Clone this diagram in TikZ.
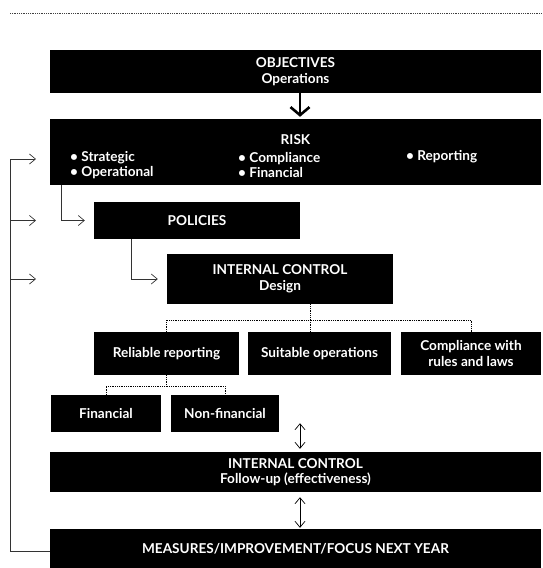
\documentclass[tikz,border=0pt]{standalone}
\usepackage{fontspec}
\setmainfont{Lato}
\usetikzlibrary{arrows.meta}
\newcommand{\boxfont}{\fontsize{13.6}{15.5}\selectfont\bfseries}

\begin{document}
\begin{tikzpicture}[x=1pt, y=-1pt,
    blackbox/.style={fill=black, text=white, inner sep=0pt, align=center, font=\boxfont},
    boxtext/.style={text=white, inner sep=0pt, align=left, font=\boxfont},
    link/.style={draw=black!80, line width=0.7pt, -{Straight Barb[length=6pt,width=10pt]}},
    dbl/.style={draw=black, line width=0.7pt, {Straight Barb[length=6pt,width=10pt]}-{Straight Barb[length=6pt,width=10pt]}},
    dots/.style={draw=black, line width=0.9pt, dash pattern=on 0.9pt off 0.9pt}]

  \useasboundingbox (0,0) rectangle (542,568);

  % ══ TOP RULE ══════════════════════════════════════════════════
  \draw[black!75, line width=0.9pt, dash pattern=on 0.9pt off 0.9pt] (10,13) -- (542,13);

  % ══ MAIN BOXES ════════════════════════════════════════════════
  \node[blackbox, minimum width=491pt, minimum height=43pt] (obj) at (295.5, 71.5)
    {OBJECTIVES\\Operations};
  \node[blackbox, minimum width=491pt, minimum height=66pt] (risk) at (295.5, 152) {};
  \node[boxtext, align=center] (risktitle) at (295.5, 140) {RISK};
  \node[boxtext, anchor=west] (riskA) at (70, 165) {• Strategic\\• Operational};
  \node[boxtext, anchor=west] (riskB) at (238, 165) {• Compliance\\• Financial};
  \node[boxtext, anchor=north west] (riskC) at (406, 150.5) {• Reporting};

  \node[blackbox, minimum width=206pt, minimum height=37pt] (pol) at (197, 220.5)
    {POLICIES};
  \node[blackbox, minimum width=226pt, minimum height=50pt] (icdesign) at (280, 279)
    {INTERNAL CONTROL\\Design};

  % ══ OBJECTIVE BOXES ═══════════════════════════════════════════
  \node[blackbox, minimum width=145pt, minimum height=43pt] (relrep) at (166.5, 353.5)
    {Reliable reporting};
  \node[blackbox, minimum width=143pt, minimum height=43pt] (suitops) at (319.5, 353.5)
    {Suitable operations};
  \node[blackbox, minimum width=140pt, minimum height=43pt] (compl) at (471, 353.5)
    {Compliance with\\rules and laws};

  \node[blackbox, minimum width=110pt, minimum height=37pt] (fin) at (106, 413.5)
    {Financial};
  \node[blackbox, minimum width=108pt, minimum height=37pt] (nonfin) at (225, 413.5)
    {Non-financial};

  % ══ FOLLOW-UP AND MEASURES ════════════════════════════════════
  \node[blackbox, minimum width=491pt, minimum height=40pt] (icfollow) at (295.5, 472)
    {INTERNAL CONTROL\\Follow-up (effectiveness)};
  \node[blackbox, minimum width=491pt, minimum height=39pt] (measures) at (295.5, 548.5)
    {MEASURES/IMPROVEMENT/FOCUS NEXT YEAR};

  % ══ ARROWS ════════════════════════════════════════════════════
  \draw[line width=2.6pt, -{Straight Barb[length=8pt,width=19pt]}, shorten >=2pt]
    ([xshift=4.5pt]obj.south) -- ([xshift=4.5pt]risk.north);
  \draw[link] ([xshift=12pt]risk.south west) |- ([xshift=-9pt]pol.west);
  \draw[link] ([xshift=38pt]pol.south west) |- ([xshift=-9pt]icdesign.west);

  \draw[dbl, shorten <=3pt, shorten >=-9pt] ([xshift=4.5pt]icfollow.north) -- ([xshift=4.5pt]icfollow.north |- nonfin.south);
  \draw[dbl, shorten <=5pt, shorten >=1pt] ([xshift=4.5pt]icfollow.south) -- ([xshift=4.5pt]measures.north);

  % ══ DOTTED TREE ═══════════════════════════════════════════════
  \coordinate (split) at (310, 320);
  \draw[dots] (icdesign.south -| split) -- (split);
  \draw[dots] (relrep.north) |- (split) -| (compl.north);
  \draw[dots] (split) -- (split |- suitops.north);
  \coordinate (split2) at (166.5, 386);
  \draw[dots] (relrep.south) -- (split2);
  \draw[dots] (fin.north) |- (split2) -| (nonfin.north);

  % ══ FEEDBACK LOOP ═════════════════════════════════════════════
  \coordinate (loop) at (10, 159);
  \coordinate (tipx) at (36, 0);
  \draw[black!80, line width=0.7pt] (measures.west |- 0,551) -| (loop);
  \draw[link] (loop) -- (loop -| tipx);
  \draw[link] (loop |- pol.west) -- (tipx |- pol.west);
  \draw[link] (loop |- icdesign.west) -- (tipx |- icdesign.west);

\end{tikzpicture}
\end{document}
